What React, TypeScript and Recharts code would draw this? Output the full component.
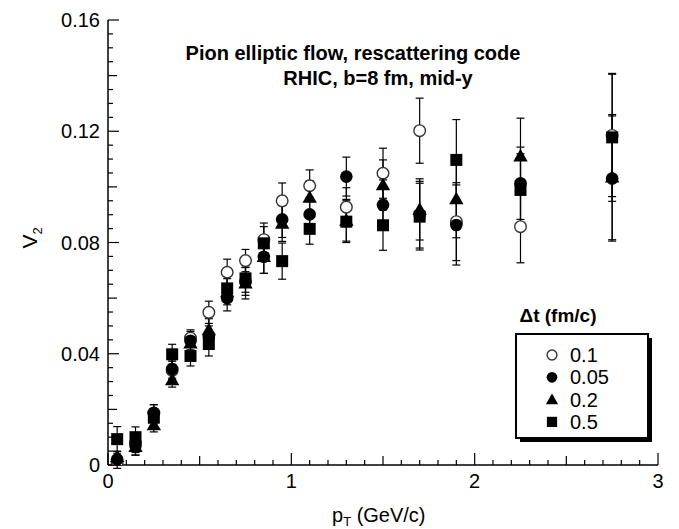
import React from "react";
import { ErrorBar, Scatter, ScatterChart, XAxis, YAxis } from "recharts";

// transverse momentum bins (GeV/c)
const ptBins = [0.05, 0.15, 0.25, 0.35, 0.45, 0.55, 0.65, 0.75, 0.85, 0.95, 1.1, 1.3, 1.5, 1.7, 1.9, 2.25, 2.75];

// v2 per time step
const v2Dt01 = [0.0008, 0.008, 0.0187, 0.034, 0.0456, 0.0549, 0.0693, 0.0735, 0.081, 0.095, 0.1004, 0.0927, 0.1049, 0.1202, 0.0875, 0.0857, 0.1185];
const v2Dt005 = [0.002, 0.007, 0.0187, 0.0345, 0.0447, 0.046, 0.06, 0.066, 0.0749, 0.0883, 0.0901, 0.1037, 0.0935, 0.09, 0.0863, 0.1013, 0.103];
const v2Dt02 = [0.003, 0.0066, 0.0144, 0.0306, 0.0438, 0.0486, 0.0623, 0.0654, 0.0749, 0.0869, 0.0962, 0.088, 0.1007, 0.0919, 0.0957, 0.1111, 0.1035];
const v2Dt05 = [0.0093, 0.01, 0.017, 0.0398, 0.0392, 0.0435, 0.0635, 0.0671, 0.0797, 0.0733, 0.0849, 0.0875, 0.0862, 0.0893, 0.1097, 0.0989, 0.1178];

// symmetric statistical errors
const errDt01 = [0.002, 0.0035, 0.003, 0.0033, 0.003, 0.004, 0.0047, 0.004, 0.006, 0.0064, 0.0057, 0.007, 0.009, 0.0117, 0.014, 0.013, 0.022];
const errDt005 = [0.002, 0.0035, 0.003, 0.0033, 0.0033, 0.004, 0.0046, 0.005, 0.006, 0.0065, 0.006, 0.007, 0.009, 0.012, 0.0144, 0.013, 0.0225];
const errDt02 = [0.002, 0.003, 0.0025, 0.0026, 0.0033, 0.004, 0.0047, 0.0057, 0.006, 0.0065, 0.006, 0.0075, 0.009, 0.011, 0.014, 0.0136, 0.0225];
const errDt05 = [0.0045, 0.0037, 0.003, 0.0036, 0.0036, 0.0043, 0.0047, 0.005, 0.006, 0.0065, 0.0055, 0.0075, 0.009, 0.012, 0.0145, 0.013, 0.023];

const xLabels = [0, 1, 2, 3];
const yLabels = [0, 0.04, 0.08, 0.12, 0.16];
const xTicks = Array.from({ length: 31 }, (_, i) => +(i * 0.1).toFixed(2));
const yTicks = Array.from({ length: 33 }, (_, i) => +(i * 0.005).toFixed(3));

const legendItems = [
  { label: "0.1", shape: "open" },
  { label: "0.05", shape: "dot" },
  { label: "0.2", shape: "tri" },
  { label: "0.5", shape: "sq" },
];

const FONT = "'Liberation Sans', Arial, Helvetica, sans-serif";

const build = (vals: number[], errs: number[]) =>
  ptBins.map((x, i) => ({ x, y: vals[i], err: errs[i] }));

const isMult = (v: number, step: number) => Math.abs(v / step - Math.round(v / step)) < 1e-6;

function Marker({ kind, cx, cy, s = 1 }: { kind: string; cx: number; cy: number; s?: number }) {
  if (kind === "open")
    return <circle cx={cx} cy={cy} r={5.8 * s} fill="#fff" stroke="#333" strokeWidth={1.4} />;
  if (kind === "dot") return <circle cx={cx} cy={cy} r={6.3 * s} fill="#000" />;
  if (kind === "tri") {
    const h = 12 * s;
    const w = 7.2 * s;
    return (
      <polygon
        points={`${cx},${cy - h * 0.6} ${cx + w},${cy + h * 0.45} ${cx - w},${cy + h * 0.45}`}
        fill="#000"
      />
    );
  }
  const a = 6 * s;
  return <rect x={cx - a} y={cy - a} width={2 * a} height={2 * a} fill="#000" />;
}

const shapeOf = (kind: string) => (p: any) => <Marker kind={kind} cx={p.cx} cy={p.cy} />;

function xTick(side: "bottom" | "top") {
  return (p: any) => {
    const v = p.payload.value;
    const len = isMult(v, 1) ? 12 : isMult(v, 0.5) ? 9 : 5;
    const dir = side === "bottom" ? -1 : 1;
    return (
      <g>
        <line x1={p.x} y1={p.y} x2={p.x} y2={p.y + dir * len} stroke="#000" strokeWidth={1.2} />
        {side === "bottom" && xLabels.includes(v) && (
          <text x={p.x} y={p.y + 23} textAnchor="middle" fontSize={20} fontFamily={FONT} fill="#000">
            {v}
          </text>
        )}
      </g>
    );
  };
}

function yTick(side: "left" | "right") {
  return (p: any) => {
    const v = p.payload.value;
    const len = isMult(v, 0.04) ? 11 : isMult(v, 0.02) ? 9 : 5;
    const dir = side === "left" ? 1 : -1;
    return (
      <g>
        <line x1={p.x} y1={p.y} x2={p.x + dir * len} y2={p.y} stroke="#000" strokeWidth={1.2} />
        {side === "left" && yLabels.some((l) => Math.abs(l - v) < 1e-6) && (
          <text x={p.x - 8} y={p.y + 7} textAnchor="end" fontSize={20} fontFamily={FONT} fill="#000">
            {v === 0 ? "0" : v.toFixed(2)}
          </text>
        )}
      </g>
    );
  };
}

const series = [
  { name: "0.1", kind: "open", vals: v2Dt01, errs: errDt01 },
  { name: "0.05", kind: "dot", vals: v2Dt005, errs: errDt005 },
  { name: "0.2", kind: "tri", vals: v2Dt02, errs: errDt02 },
  { name: "0.5", kind: "sq", vals: v2Dt05, errs: errDt05 },
];

export default function App() {
  const axisLine = { stroke: "#000", strokeWidth: 1.5 };
  return (
    <div style={{ position: "relative", width: 679, height: 529, background: "#fff" }}>
      <style>{`body{margin:0}`}</style>
      <ScatterChart width={679} height={529} margin={{ top: 20, right: 21, bottom: 0, left: 0 }}>
        <XAxis
          xAxisId="b"
          type="number"
          dataKey="x"
          domain={[0, 3]}
          ticks={xTicks}
          interval={0}
          height={64}
          tickSize={0}
          tickMargin={0}
          tickLine={false}
          axisLine={axisLine}
          tick={xTick("bottom")}
          allowDataOverflow
          label={{
            content: (props: any) => {
              const vb = props.viewBox;
              const cx = vb.x + vb.width / 2;
              return (
                <text x={cx - 51} y={vb.y + 57} fontSize={20} fontFamily={FONT} fill="#000">
                  p<tspan fontSize={13} dy={4}>T</tspan>
                  <tspan dy={-4}> (GeV/c)</tspan>
                </text>
              );
            },
          }}
        />
        <XAxis
          xAxisId="t"
          orientation="top"
          type="number"
          domain={[0, 3]}
          ticks={xTicks}
          interval={0}
          height={0}
          tickSize={0}
          tickMargin={0}
          tickLine={false}
          axisLine={axisLine}
          tick={xTick("top")}
          allowDataOverflow
        />
        <YAxis
          yAxisId="l"
          type="number"
          dataKey="y"
          domain={[0, 0.16]}
          ticks={yTicks}
          interval={0}
          width={108}
          tickSize={0}
          tickMargin={0}
          tickLine={false}
          axisLine={axisLine}
          tick={yTick("left")}
          allowDataOverflow
          label={{
            content: (props: any) => {
              const vb = props.viewBox;
              const cy = vb.y + vb.height / 2;
              return (
                <text
                  transform={`rotate(-90 37 ${cy + 6})`}
                  x={37}
                  y={cy + 6}
                  fontSize={21}
                  fontFamily={FONT}
                  fill="#000"
                >
                  V<tspan fontSize={13} dy={5}>2</tspan>
                </text>
              );
            },
          }}
        />
        <YAxis
          yAxisId="r"
          orientation="right"
          type="number"
          domain={[0, 0.16]}
          ticks={yTicks}
          interval={0}
          width={0}
          tickSize={0}
          tickMargin={0}
          tickLine={false}
          axisLine={axisLine}
          tick={yTick("right")}
          allowDataOverflow
        />
        {series.map((s) => (
          <Scatter
            key={s.name}
            name={s.name}
            xAxisId="b"
            yAxisId="l"
            data={build(s.vals, s.errs)}
            shape={shapeOf(s.kind)}
            isAnimationActive={false}
          >
            <ErrorBar dataKey="err" direction="y" width={4} stroke="#000" strokeWidth={1.2} />
          </Scatter>
        ))}
      </ScatterChart>

      <svg
        width={679}
        height={529}
        style={{ position: "absolute", left: 0, top: 0, pointerEvents: "none" }}
        fontFamily={FONT}
      >
        <text x={353} y={60} textAnchor="middle" fontSize={20} fontWeight="bold">
          Pion elliptic flow, rescattering code
        </text>
        <text x={378} y={85} textAnchor="middle" fontSize={20} fontWeight="bold">
          RHIC, b=8 fm, mid-y
        </text>

        <text x={558} y={322} textAnchor="middle" fontSize={19} fontWeight="bold">
          Δt (fm/c)
        </text>
        <rect x={520} y={338} width={132} height={104} fill="#000" />
        <rect x={516} y={334} width={132} height={104} fill="#fff" stroke="#000" strokeWidth={2} />
        {legendItems.map((it, i) => (
          <g key={it.label}>
            <Marker kind={it.shape} cx={552} cy={355 + i * 22.3} s={0.85} />
            <text x={570} y={362 + i * 22.3} fontSize={20}>
              {it.label}
            </text>
          </g>
        ))}
      </svg>
    </div>
  );
}
